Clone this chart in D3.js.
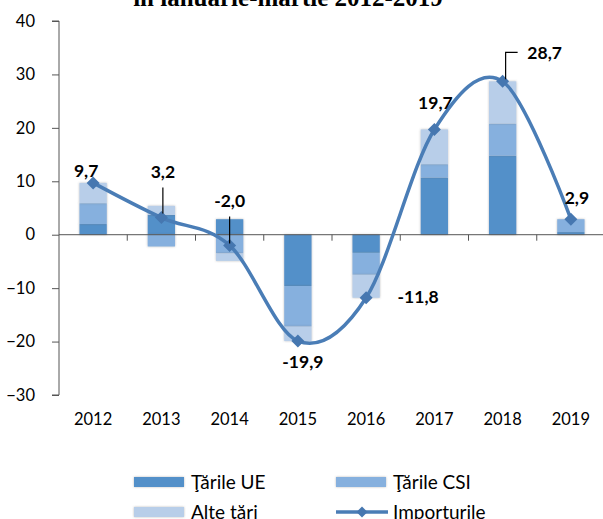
<!DOCTYPE html>
<html>
<head>
<meta charset="utf-8">
<script src="https://cdn.jsdelivr.net/npm/d3@7/dist/d3.min.js"></script>
<style>
  html, body { margin: 0; padding: 0; background: #fff; }
  svg { display: block; }
</style>
</head>
<body>
<svg id="chart" width="603" height="519"></svg>
<script>
// Contribuţia pe grupe de ţări la creşterea/descreşterea importurilor, %
const years = ["2012", "2013", "2014", "2015", "2016", "2017", "2018", "2019"];
const tarileUE  = [2.0, 3.7, 2.9, -9.6, -3.4, 10.7, 14.8, 0.5];
const tarileCSI = [3.9, -2.2, -3.5, -7.6, -4.1, 2.5, 6.0, 2.4];
const alteTari  = [3.8, 1.7, -1.4, -2.7, -4.3, 6.5, 7.9, 0.0];
const importurile = [9.7, 3.2, -2.0, -19.9, -11.8, 19.7, 28.7, 2.9];
const yTicks = [-30, -20, -10, 0, 10, 20, 30, 40];

const seriesNames = ["Ţările UE", "Ţările CSI", "Alte ţări"];
const seriesColors = ["#5390c9", "#86b0de", "#b8cee9"];
const lineColor = "#4a7db6";

const svg = d3.select("#chart");
const plotLeft = 59, plotRight = 605, plotTop = 21, plotBottom = 395;

const x = d3.scaleBand().domain(years).range([plotLeft, plotRight]).paddingInner(0).paddingOuter(0);
const y = d3.scaleLinear().domain([-30, 40]).range([plotBottom, plotTop]);
const barW = x.bandwidth() * 0.4;
const cx = d => x(d) + x.bandwidth() / 2;

// soft edge around the bars
const defs = svg.append("defs");
const f = defs.append("filter").attr("id", "soft").attr("x", "-20%").attr("y", "-20%").attr("width", "140%").attr("height", "140%");
f.append("feDropShadow").attr("dx", 0).attr("dy", 0).attr("stdDeviation", 0.8)
  .attr("flood-color", "#666").attr("flood-opacity", 0.45);

// title (second line, partly above the frame)
svg.append("text")
  .attr("x", 288).attr("y", 6)
  .attr("text-anchor", "middle")
  .attr("font-family", "'Liberation Serif', serif")
  .attr("font-weight", "bold")
  .attr("font-size", 25)
  .text("în ianuarie-martie 2012-2019");

// stacked bars (positive values stacked up, negative values down)
const table = years.map((yr, i) => ({ year: yr, ue: tarileUE[i], csi: tarileCSI[i], alte: alteTari[i] }));
const stack = d3.stack().keys(["ue", "csi", "alte"]).offset(d3.stackOffsetDiverging);
const layers = stack(table);

svg.append("g").selectAll("g")
  .data(layers)
  .join("g")
  .attr("fill", (d, i) => seriesColors[i])
  .attr("filter", "url(#soft)")
  .selectAll("rect")
  .data(d => d)
  .join("rect")
  .attr("x", d => cx(d.data.year) - barW / 2)
  .attr("width", barW)
  .attr("y", d => y(Math.max(d[0], d[1])))
  .attr("height", d => Math.abs(y(d[0]) - y(d[1])));

// axes
const yAxis = svg.append("g").attr("transform", `translate(${plotLeft},0)`)
  .call(d3.axisLeft(y).tickValues(yTicks).tickSize(7).tickPadding(17).tickFormat(d3.format("d")));
yAxis.select(".domain").attr("stroke", "#555").attr("d", `M-7,${plotTop}H0V${plotBottom}H-7`);
yAxis.selectAll(".tick line").attr("stroke", "#555");
yAxis.selectAll("text").attr("font-family", "Lato, sans-serif").attr("font-size", 16.5).attr("fill", "#000");

const xAxis = svg.append("g").attr("transform", `translate(0,${y(0)})`);
xAxis.append("line").attr("x1", plotLeft).attr("x2", plotRight).attr("stroke", "#555");
xAxis.selectAll("line.tk")
  .data(years.slice(1))
  .join("line")
  .attr("class", "tk")
  .attr("x1", d => x(d)).attr("x2", d => x(d))
  .attr("y1", 0).attr("y2", 6)
  .attr("stroke", "#555");

svg.append("g").selectAll("text")
  .data(years)
  .join("text")
  .attr("x", d => cx(d))
  .attr("y", 425)
  .attr("text-anchor", "middle")
  .attr("font-family", "Lato, sans-serif")
  .attr("font-size", 16.5)
  .text(d => d);

// imports line, smoothed
const pts = years.map((yr, i) => [cx(yr), y(importurile[i])]);
svg.append("path")
  .attr("d", d3.line().curve(d3.curveCardinal.tension(0))(pts))
  .attr("fill", "none")
  .attr("stroke", lineColor)
  .attr("stroke-width", 3.5);

const diamond = (r) => `M0,${-r}L${r},0L0,${r}L${-r},0Z`;
svg.append("g").selectAll("path")
  .data(pts)
  .join("path")
  .attr("transform", d => `translate(${d[0]},${d[1]})`)
  .attr("d", diamond(6.5))
  .attr("fill", "#4677b0");

// value labels
const labelPlace = [
  { dx: -7, dy: -6 },
  { dx: 1.5, dy: -40, lead: [[1.5, -30], [1.5, -4]] },
  { dx: 0, dy: -38, lead: [[0, -29], [0, -2]] },
  { dx: 5, dy: 27 },
  { dx: 52, dy: 5 },
  { dx: 1, dy: -20 },
  { dx: 42, dy: -22, lead: [[3, -2], [3, -29], [15, -29]] },
  { dx: 6, dy: -15 }
];
const fmt = v => d3.format(".1f")(v).replace(".", ",").replace("\u2212", "-");

svg.append("g").selectAll("path")
  .data(pts.map((p, i) => ({ p, l: labelPlace[i].lead })).filter(d => d.l))
  .join("path")
  .attr("d", d => d3.line()(d.l.map(q => [d.p[0] + q[0], d.p[1] + q[1]])))
  .attr("fill", "none")
  .attr("stroke", "#000")
  .attr("stroke-width", 1.2);

svg.append("g").selectAll("text")
  .data(pts)
  .join("text")
  .attr("x", (d, i) => d[0] + labelPlace[i].dx)
  .attr("y", (d, i) => d[1] + labelPlace[i].dy)
  .attr("text-anchor", "middle")
  .attr("font-family", "Lato, sans-serif")
  .attr("font-weight", "bold")
  .attr("font-size", 17.5)
  .text((d, i) => fmt(importurile[i]));

// legend
const legend = svg.append("g").attr("font-family", "Lato, sans-serif").attr("font-size", 19);
const legendItems = [
  { name: seriesNames[0], color: seriesColors[0], lx: 134, ly: 482, type: "bar" },
  { name: seriesNames[1], color: seriesColors[1], lx: 336, ly: 482, type: "bar" },
  { name: seriesNames[2], color: seriesColors[2], lx: 134, ly: 512, type: "bar" },
  { name: "Importurile", color: lineColor, lx: 336, ly: 512, type: "line" }
];
legendItems.forEach(it => {
  const g = legend.append("g").attr("transform", `translate(${it.lx},${it.ly})`);
  if (it.type === "bar") {
    g.append("rect").attr("x", 0).attr("y", -5).attr("width", 50).attr("height", 10)
      .attr("fill", it.color).attr("filter", "url(#soft)");
  } else {
    g.append("line").attr("x1", 0).attr("x2", 52).attr("stroke", it.color).attr("stroke-width", 3.5);
    g.append("path").attr("transform", "translate(26,0)").attr("d", diamond(5.5)).attr("fill", "#4677b0");
  }
  g.append("text").attr("x", 57).attr("y", 6.5).text(it.name);
});
</script>
</body>
</html>
